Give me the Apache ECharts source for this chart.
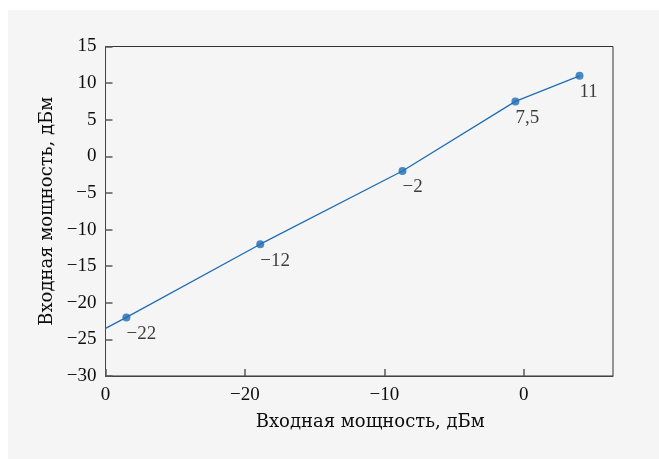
<!DOCTYPE html>
<html>
<head>
<meta charset="utf-8">
<script src="https://cdn.jsdelivr.net/npm/echarts@6/dist/echarts.min.js"></script>
<style>
  html, body { margin: 0; padding: 0; background: #ffffff; }
  #panel { position: absolute; left: 8px; top: 10px; right: 0; bottom: 0; background: #f5f5f5; }
  #chart { position: absolute; left: 0; top: 0; width: 659px; height: 459px; }
</style>
</head>
<body>
<div id="panel"></div>
<div id="chart"></div>
<script>
// Measured points: input power (x) and the stated power values (y)
const inputPower = [-28.5, -18.9, -8.7, -0.6, 4.0];
const statedPower = [-22, -12, -2, 7.5, 11];
// Where the straight line meets the left edge of the plot
const lineStart = [-30, -23.5];

// X axis tick values and the texts printed under them
const xTickValues = [-30, -20, -10, 0];
const xTickLabels = ['0', '−20', '−10', '0'];

const axisTitle = 'Входная мощность, дБм';

const NUM_FONT = '"Liberation Serif", serif';
const TITLE_FONT = '"DejaVu Serif", serif';
const TEXT = '#0d0d0d';
const BLUE = '#1f6db5';
const TICK = '#5a5a5a';

function fmtNum(v) {
  return String(v).replace('-', '−').replace('.', ',');
}

const points = inputPower.map((x, i) => [x, statedPower[i]]);
const lineData = [lineStart].concat(points);

const chart = echarts.init(document.getElementById('chart'), null, { renderer: 'canvas' });
chart.setOption({
  backgroundColor: 'transparent',
  animation: false,
  grid: {
    left: 105.5, top: 46.5, right: 46, bottom: 83,
    show: true, borderColor: '#333', borderWidth: 1, backgroundColor: 'transparent'
  },
  xAxis: {
    type: 'value',
    min: -30, max: 6.4, interval: 10,
    name: axisTitle,
    nameLocation: 'middle',
    nameGap: 37,
    nameTextStyle: { fontFamily: TITLE_FONT, fontSize: 18, color: TEXT, padding: [0, 0, 0, 22] },
    axisLine: { show: true, onZero: false, lineStyle: { color: '#444', width: 1 } },
    axisTick: { show: true, inside: true, length: 7, lineStyle: { color: TICK, width: 1.5 } },
    splitLine: { show: false },
    axisLabel: {
      fontFamily: NUM_FONT, fontSize: 19, color: TEXT, margin: 10,
      showMaxLabel: false,
      formatter: function (v) {
        const k = xTickValues.indexOf(v);
        return k >= 0 ? xTickLabels[k] : '';
      }
    }
  },
  yAxis: {
    type: 'value',
    min: -30, max: 15, interval: 5,
    name: axisTitle,
    nameLocation: 'middle',
    nameGap: 44,
    nameTextStyle: { fontFamily: TITLE_FONT, fontSize: 18, color: TEXT },
    axisLine: { show: true, onZero: false, lineStyle: { color: '#444', width: 1 } },
    axisTick: { show: true, inside: true, length: 7, lineStyle: { color: TICK, width: 1.5 } },
    splitLine: { show: false },
    axisLabel: {
      fontFamily: NUM_FONT, fontSize: 19, color: TEXT, margin: 9,
      formatter: function (v) { return fmtNum(v); }
    }
  },
  series: [
    {
      type: 'line',
      data: lineData,
      showSymbol: false,
      symbol: 'none',
      lineStyle: { color: BLUE, width: 1.3 },
      z: 2
    },
    {
      type: 'scatter',
      data: points,
      symbol: 'circle',
      symbolSize: 8,
      itemStyle: { color: BLUE },
      z: 3,
      label: {
        show: true,
        position: [4, 11],
        align: 'left',
        verticalAlign: 'top',
        fontFamily: NUM_FONT,
        fontSize: 19,
        color: TEXT,
        formatter: function (p) { return fmtNum(p.value[1]); }
      }
    }
  ]
});
</script>
</body>
</html>
